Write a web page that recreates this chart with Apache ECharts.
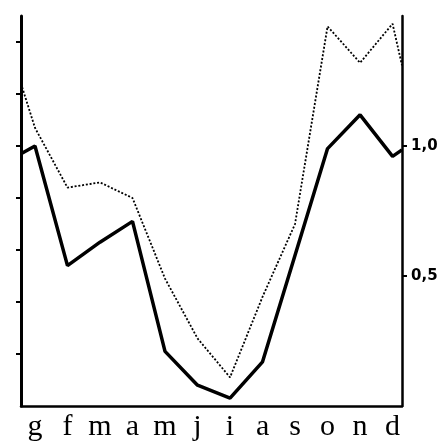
<!DOCTYPE html>
<html>
<head>
<meta charset="utf-8">
<script src="https://cdn.jsdelivr.net/npm/echarts@6/dist/echarts.min.js"></script>
<style>
  html, body { margin: 0; padding: 0; background: #fff; }
  #chart { width: 446px; height: 443px; }
</style>
</head>
<body>
<div id="chart"></div>
<script>
// mesi (iniziali)
const months = ["g", "f", "m", "a", "m", "j", "i", "a", "s", "o", "n", "d"];
// curva continua
const solidValues = [1.0, 0.54, 0.63, 0.71, 0.21, 0.08, 0.03, 0.17, 0.58, 0.99, 1.12, 0.96];
const solidEdges = [0.97, 0.985]; // valore sul bordo sinistro / destro
// curva punteggiata
const dottedValues = [1.07, 0.84, 0.86, 0.8, 0.49, 0.26, 0.11, 0.42, 0.7, 1.46, 1.32, 1.47];
const dottedEdges = [1.24, 1.31];
// etichette asse destro
const rightTicks = [0.5, 1.0];
const leftTicks = [0.2, 0.4, 0.6, 0.8, 1.0, 1.2, 1.4];

const X_MIN = -0.43;
const X_MAX = 11.29;

function build(values, edges) {
  let out = [[X_MIN, edges[0]]];
  values.forEach((v, i) => out.push([i, v]));
  out.push([X_MAX, edges[1]]);
  return out;
}

let myChart = echarts.init(document.getElementById("chart"));
myChart.setOption({
  backgroundColor: "#fff",
  animation: false,
  grid: { left: 21, right: 44, top: 16, bottom: 37 },
  xAxis: {
    type: "value",
    min: X_MIN,
    max: X_MAX,
    splitLine: { show: false },
    axisTick: { show: false },
    axisLine: { onZero: false, lineStyle: { color: "#000", width: 2.5 } },
    axisLabel: {
      customValues: months.map((m, i) => i),
      formatter: (v) => months[Math.round(v)] || "",
      color: "#000",
      fontFamily: "Liberation Serif",
      fontSize: 30,
      margin: 6,
    },
  },
  yAxis: [
    {
      type: "value",
      position: "left",
      min: 0,
      max: 1.5,
      splitLine: { show: false },
      axisLine: { show: true, onZero: false, lineStyle: { color: "#000", width: 3 } },
      axisTick: {
        show: true,
        customValues: leftTicks,
        length: 5,
        lineStyle: { color: "#000", width: 2 },
      },
      axisLabel: { show: false },
    },
    {
      type: "value",
      position: "right",
      min: 0,
      max: 1.5,
      splitLine: { show: false },
      axisLine: { show: true, onZero: false, lineStyle: { color: "#000", width: 2.5 } },
      axisTick: {
        show: true,
        customValues: rightTicks,
        length: 5,
        lineStyle: { color: "#000", width: 2 },
      },
      axisLabel: {
        customValues: rightTicks,
        formatter: (v) => v.toFixed(1).replace(".", ","),
        color: "#000",
        fontFamily: "DejaVu Sans",
        fontWeight: "bold",
        fontSize: 15,
        margin: 9,
      },
    },
  ],
  series: [
    {
      type: "line",
      data: build(dottedValues, dottedEdges),
      showSymbol: false,
      lineStyle: { color: "#000", width: 1.8, type: [2, 1.8] },
    },
    {
      type: "line",
      data: build(solidValues, solidEdges),
      showSymbol: false,
      lineStyle: { color: "#000", width: 3.5 },
    },
  ],
});
</script>
</body>
</html>
